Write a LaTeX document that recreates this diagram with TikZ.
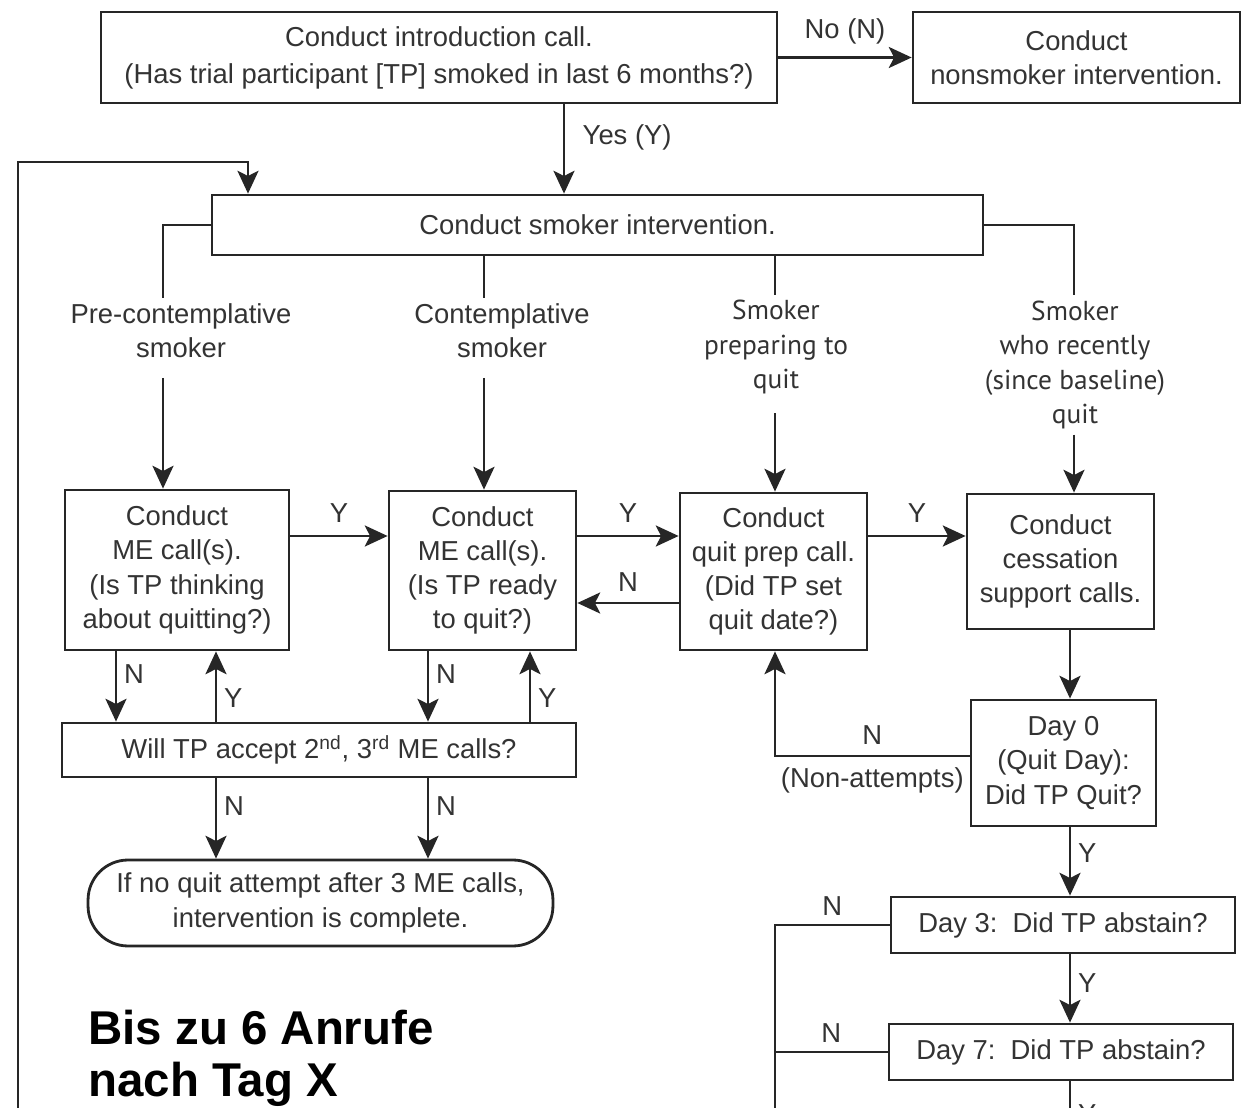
\documentclass[tikz,border=0pt]{standalone}
\usepackage{fontspec}
\setmainfont{Liberation Sans}
\newfontfamily\stagefont{PT Sans}
\usetikzlibrary{arrows.meta}

\begin{document}
\begin{tikzpicture}[
    x=0.02cm, y=-0.02cm,
    every node/.style={text=black!80, font=\fontsize{15.6}{19.5}\selectfont},
    box/.style={draw=black!85, line width=1.6pt, align=center, inner sep=0pt},
    stage/.style={align=center, inner sep=3pt},
    lab/.style={inner sep=2pt},
    con/.style={draw=black!85, line width=1.3pt},
    arr/.style={con, -{Stealth[length=13pt, width=12pt, inset=3pt]}},
  ]
  % Rahmen des Bildes
  \useasboundingbox (0,0) rectangle (1242,1108);
  % Spalten und Zeilen der Verbinder
  \coordinate (c0) at (564,0);
  \coordinate (c1) at (163,0);
  \coordinate (c2) at (484,0);
  \coordinate (c3) at (775,0);
  \coordinate (c4) at (1074,0);
  \coordinate (c5) at (1070,0);
  \coordinate (v1) at (116,0);
  \coordinate (v2) at (216,0);
  \coordinate (v3) at (428,0);
  \coordinate (v4) at (530,0);
  \coordinate (r1) at (0,536);
  \coordinate (r2) at (0,603);
  \coordinate (r3) at (0,756);
  \coordinate (loopin) at (248,162);
  \coordinate (loopbot) at (18,1140);
  \coordinate (nbot) at (775,1140);
  \coordinate (ybot) at (1070,1140);

  % Einstieg
  \node[box, minimum width=13.52cm, minimum height=1.82cm, font=\fontsize{15.6}{21}\selectfont] (intro) at (439,57.5)
    {Conduct introduction call.\\(Has trial participant [TP] smoked in last 6 months?)};
  \node[box, minimum width=6.54cm, minimum height=1.82cm] (nonsmk) at (1076.5,57.5)
    {Conduct\\nonsmoker intervention.};
  \node[box, minimum width=15.42cm, minimum height=1.2cm] (smkint) at (597.5,225)
    {Conduct smoker intervention.};

  % Raucher-Stadien
  \node[stage] (precon) at (181,331) {Pre-contemplative\\smoker};
  \node[stage] (contemp) at (502,331) {Contemplative\\smoker};
  \node[stage, font=\stagefont\fontsize{15.6}{19.5}\selectfont] (prepq) at (776,347)
    {Smoker\\preparing to\\quit};
  \node[stage, font=\stagefont\fontsize{15.6}{19.5}\selectfont] (recent) at (1075,365)
    {Smoker\\who recently\\(since baseline)\\quit};

  % Anrufe
  \node[box, minimum width=4.48cm, minimum height=3.2cm] (me1) at (177,570)
    {Conduct\\ME call(s).\\(Is TP thinking\\about quitting?)};
  \node[box, minimum width=3.74cm, minimum height=3.18cm] (me2) at (482.5,570.5)
    {Conduct\\ME call(s).\\(Is TP ready\\to quit?)};
  \node[box, minimum width=3.74cm, minimum height=3.14cm] (prep) at (773.5,571.5)
    {Conduct\\quit prep call.\\(Did TP set\\quit date?)};
  \node[box, minimum width=3.74cm, minimum height=2.7cm] (cess) at (1060.5,561.5)
    {Conduct\\cessation\\support calls.};
  \node[box, minimum width=10.28cm, minimum height=1.08cm] (accept) at (319,750)
    {Will TP accept 2\textsuperscript{nd}, 3\textsuperscript{rd} ME calls?};
  \node[box, rounded corners=0.8cm, minimum width=9.3cm, minimum height=1.72cm] (done) at (320.5,903)
    {If no quit attempt after 3 ME calls,\\intervention is complete.};

  % Tage nach dem Rauchstopp
  \node[box, minimum width=3.7cm, minimum height=2.52cm] (day0) at (1063.5,763)
    {Day 0\\(Quit Day):\\Did TP Quit?};
  \node[box, minimum width=6.88cm, minimum height=1.12cm] (day3) at (1063,925)
    {Day 3:\ \ Did TP abstain?};
  \node[box, minimum width=6.88cm, minimum height=1.12cm] (day7) at (1061,1052)
    {Day 7:\ \ Did TP abstain?};

  % Hinweis
  \node[anchor=base west, inner sep=0pt, text=black, font=\bfseries\fontsize{27}{30}\selectfont] (bis) at (88,1044) {Bis zu 6 Anrufe};
  \node[anchor=base west, inner sep=0pt, text=black, font=\bfseries\fontsize{27}{30}\selectfont] (nach) at (88,1096) {nach Tag X};

  % Verbinder oben
  \draw[arr] (intro) -- node[lab, above=5pt]{No (N)} (nonsmk);
  \draw[arr] (intro.south -| c0) -- node[lab, right=8pt, pos=0.37]{Yes (Y)} (smkint.north -| c0);
  \draw[arr] (loopbot) |- (loopin) -- (loopin |- smkint.north);

  % Verzweigung nach Stadien
  \draw[con] (smkint.west) -| (precon.north -| c1);
  \draw[arr, shorten <=8pt] (precon.south -| c1) -- (me1.north -| c1);
  \draw[con] (smkint.south -| c2) -- (contemp.north -| c2);
  \draw[arr, shorten <=8pt] (contemp.south -| c2) -- (me2.north -| c2);
  \draw[con] (smkint.south -| c3) -- (prepq.north -| c3);
  \draw[arr, shorten <=8pt] (prepq.south -| c3) -- (prep.north -| c3);
  \draw[con] (smkint.east) -| (recent.north -| c4);
  \draw[arr] (recent.south -| c4) -- (cess.north -| c4);

  % waagrechte Verbinder
  \draw[arr] (me1.east |- r1) -- node[lab, above=5pt]{Y} (me2.west |- r1);
  \draw[arr] (me2.east |- r1) -- node[lab, above=5pt]{Y} (prep.west |- r1);
  \draw[arr] (prep.west |- r2) -- node[lab, above=4pt]{N} (me2.east |- r2);
  \draw[arr] (prep.east |- r1) -- node[lab, above=5pt]{Y} (cess.west |- r1);

  % ME-Anrufe
  \draw[arr] (me1.south -| v1) -- node[lab, right=2pt, pos=0.33]{N} (accept.north -| v1);
  \draw[arr] (accept.north -| v2) -- node[lab, right=2pt, pos=0.33]{Y} (me1.south -| v2);
  \draw[arr] (me2.south -| v3) -- node[lab, right=2pt, pos=0.33]{N} (accept.north -| v3);
  \draw[arr] (accept.north -| v4) -- node[lab, right=2pt, pos=0.33]{Y} (me2.south -| v4);
  \draw[arr] (accept.south -| v2) -- node[lab, right=2pt, pos=0.35]{N} (done.north -| v2);
  \draw[arr] (accept.south -| v3) -- node[lab, right=2pt, pos=0.35]{N} (done.north -| v3);

  % Tage
  \draw[arr] (cess.south -| c5) -- (day0.north -| c5);
  \draw[arr] (day0.west |- r3) -- node[lab, above=4pt]{N} node[lab, below=4pt]{(Non-attempts)} (r3 -| c3) -- (prep.south -| c3);
  \draw[arr] (day0.south -| c5) -- node[lab, right=2pt, pos=0.37]{Y} (day3.north -| c5);
  \draw[arr] (day3.south -| c5) -- node[lab, right=2pt, pos=0.42]{Y} (day7.north -| c5);
  \draw[arr] (day7.south -| c5) -- node[lab, right=2pt, pos=0.55]{Y} (ybot);
  \draw[con] (day3.west) -- node[lab, above=3pt]{N} (day3.west -| nbot) -- (nbot);
  \draw[con] (day7.west) -- node[lab, above=3pt]{N} (day7.west -| nbot);
\end{tikzpicture}
\end{document}
